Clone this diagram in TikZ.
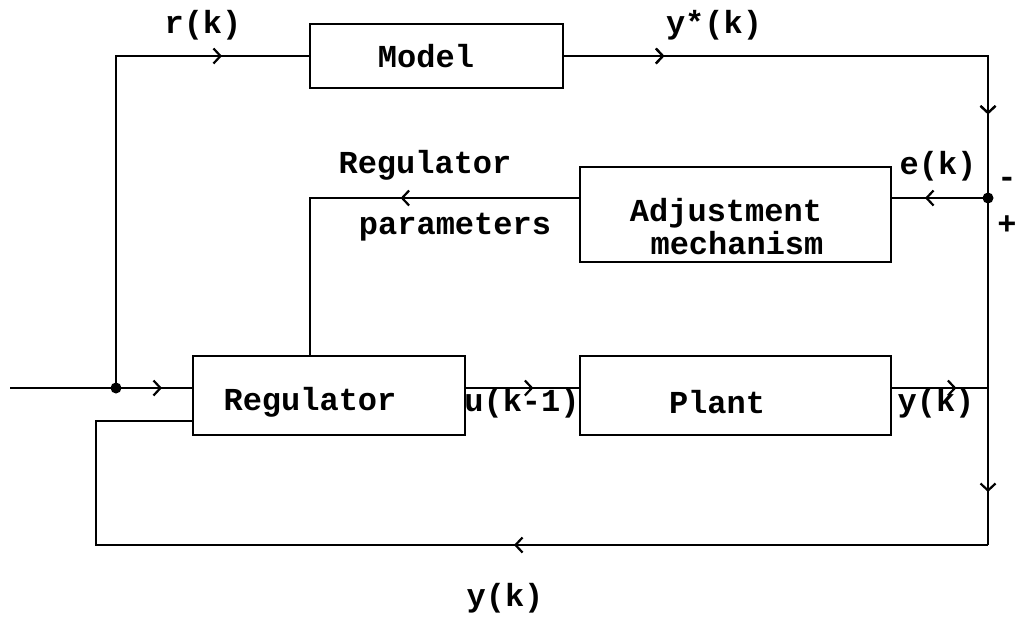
\documentclass[tikz,border=0pt]{standalone}
\usepackage{fontspec}
\newfontfamily\cour{Liberation Mono}
\usetikzlibrary{arrows.meta,decorations.markings,calc}
\tikzset{
  x=1pt, y=-1pt,
  wire/.style={line width=2.4pt},
  blk/.style={draw, line width=2.8pt, minimum width=#1},
  lbl/.style={font=\cour\bfseries\fontsize{32}{34}\selectfont, inner sep=0pt},
  tip/.style={postaction=decorate, decoration={markings,
      mark=at position #1 with {\arrow[line width=2.2pt]{Straight Barb[length=7pt,width=15pt]}}}},
  tipb/.style={postaction=decorate, decoration={markings,
      mark=at position #1 with {\arrow[line width=2.2pt]{Straight Barb[length=7pt,width=15pt]}}}},
  junction/.style={circle, fill, inner sep=0pt, minimum size=11pt},
}
\begin{document}
\begin{tikzpicture}
\useasboundingbox (0,0) rectangle (1017,616);

% blocks
\node[blk=253pt, minimum height=64pt] (model) at (436.5,56) {};
\node[blk=311pt, minimum height=95pt] (adj) at (735.5,214.5) {};
\node[blk=272pt, minimum height=79pt] (reg) at (329,395.5) {};
\node[blk=311pt, minimum height=79pt] (plant) at (735.5,395.5) {};

% block texts
\node[lbl] (tmodel) at (426,56) {Model};
\node[lbl] (tadj1) at (726,213) {Adjustment};
\node[lbl] (tadj2) at (737,243) {mechanism};
\node[lbl] (treg) at (310,402) {Regulator};
\node[lbl] (tplant) at (717,402) {Plant};

% junction points
\coordinate (in) at (10,388);
\node[junction] (split) at (116,388) {};
\node[junction] (edot) at (988,198) {};
\coordinate (ytop) at (988,56);
\coordinate (ymid) at (988,388);
\coordinate (ybot) at (988,545);
\coordinate (fbl) at (96,545);
\coordinate (fbt) at (96,421);
\coordinate (pcol) at (310,198);

% reference input
\draw[wire, tip=152pt] (in) -- (reg.west |- split);
\draw[wire, tip=438pt] (split.center) -- (116,56) -- (model.west);

% model output to the error junction
\draw[wire, tip=100pt, tipb=482pt] (model.east) -- (ytop) -- (edot.center);

% error to adjustment mechanism
\draw[wire, tip=63pt] (edot.center) -- (adj.east |- edot);

% regulator parameters
\draw[wire, tip=178pt] (adj.west |- edot) -- (pcol) -- (pcol |- reg.north);

% control signal
\draw[wire, tip=67pt] (reg.east |- in) -- (plant.west |- in);

% plant output and feedback
\draw[wire] (edot.center) -- (ymid);
\draw[wire, tip=64pt] (plant.east |- in) -- (ymid);
\draw[wire, tip=104pt] (ymid) -- (ybot);
\draw[wire, tip=474pt] (ybot) -- (fbl) -- (fbt) -- (reg.west |- fbt);

% signal labels
\node[lbl] (lr) at (203,25) {r(k)};
\node[lbl] (lys) at (714,25) {y*(k)};
\node[lbl] (lrp1) at (425,165) {Regulator};
\node[lbl] (lrp2) at (455,227) {parameters};
\node[lbl] (le) at (938,166) {e(k)};
\node[lbl] (lminus) at (1007,182) {-};
\node[lbl] (lplus) at (1007,225) {+};
\node[lbl] (lu) at (522,403) {u(k-1)};
\node[lbl] (ly) at (936,403) {y(k)};
\node[lbl] (lyb) at (505,598) {y(k)};
\end{tikzpicture}
\end{document}
